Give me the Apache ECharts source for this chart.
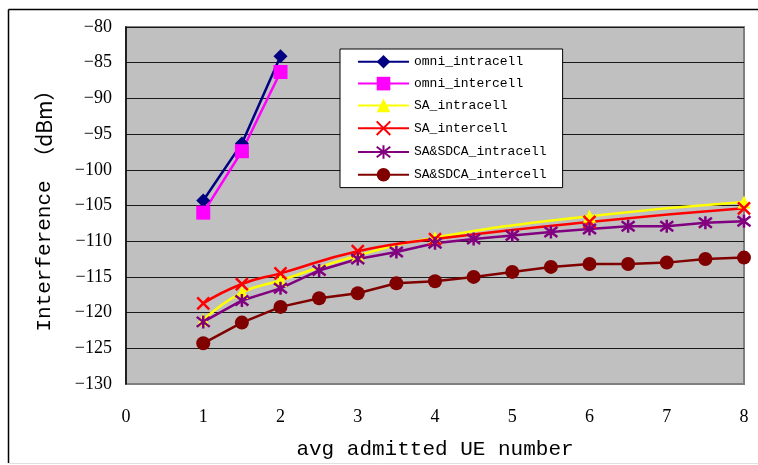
<!DOCTYPE html>
<html>
<head>
<meta charset="utf-8">
<script src="https://cdn.jsdelivr.net/npm/echarts@6/dist/echarts.min.js"></script>
<style>
html,body{margin:0;padding:0;background:#fff;}
#c{width:758px;height:465px;}
</style>
</head>
<body>
<div id="c"></div>
<script>
// ---- data ----
const xOmni = [1, 1.5, 2];
const omniIntracell = [-104.3, -96.3, -84.1];
const omniIntercell = [-106.0, -97.4, -86.3];

const xSA = [1, 1.5, 2, 3, 4, 6, 8];
const saIntracell = [-121.0, -117.2, -115.5, -112.0, -109.5, -106.5, -104.5];
const saIntercell = [-118.7, -116.0, -114.5, -111.4, -109.7, -107.3, -105.4];

const xSDCA = [1, 1.5, 2, 2.5, 3, 3.5, 4, 4.5, 5, 5.5, 6, 6.5, 7, 7.5, 8];
const sdcaIntracell = [-121.3, -118.3, -116.6, -114.1, -112.5, -111.5, -110.3, -109.7, -109.2, -108.7, -108.3, -107.9, -107.9, -107.4, -107.2];
const sdcaIntercell = [-124.3, -121.4, -119.2, -118.0, -117.3, -115.9, -115.6, -115.0, -114.3, -113.6, -113.2, -113.2, -113.0, -112.5, -112.3];

const seriesNames = ['omni_intracell', 'omni_intercell', 'SA_intracell', 'SA_intercell', 'SA&SDCA_intracell', 'SA&SDCA_intercell'];
const xTicks = {min: 0, max: 8, interval: 1};
const yTicks = {min: -130, max: -80, interval: 5};
const xName = 'avg admitted UE number';
const yNameMain = 'Interference';
const yNameUnit = '（dBm）';

function pairs(xs, ys) { return xs.map((x, i) => [x, ys[i]]); }

const X_PATH = 'path://M0,0L10,10M10,0L0,10';
const STAR_PATH = 'path://M0,0L10,10M10,0L0,10M5,-1.5L5,11.5';

const chart = echarts.init(document.getElementById('c'), null, {renderer: 'canvas'});
const monoFont = '"Liberation Mono", "Noto Sans CJK SC", monospace';
const serifFont = '"Liberation Serif", serif';

function mk(name, data, color, symbol, size, smooth, extra) {
  return Object.assign({
    name: name,
    type: 'line',
    data: data,
    smooth: smooth,
    symbol: symbol,
    symbolSize: size,
    showAllSymbol: true,
    animation: false,
    lineStyle: {color: color, width: 2.5},
    itemStyle: {color: color, borderWidth: 0}
  }, extra || {});
}

chart.setOption({
  animation: false,
  backgroundColor: '#fff',
  graphic: [
    {type: 'line', shape: {x1: 8.5, y1: 9.5, x2: 758, y2: 9.5}, style: {stroke: '#000', lineWidth: 1.5}},
    {type: 'line', shape: {x1: 8.5, y1: 9.5, x2: 8.5, y2: 463}, style: {stroke: '#000', lineWidth: 1.5}},
    {type: 'line', shape: {x1: 8.5, y1: 463.5, x2: 758, y2: 463.5}, style: {stroke: '#e0e0e0', lineWidth: 1}}
  ],
  grid: {
    left: 126, top: 27, right: 14, bottom: 71,
    show: true,
    backgroundColor: '#C0C0C0',
    borderColor: '#808080',
    borderWidth: 2
  },
  legend: {
    orient: 'vertical',
    left: 340, top: 49,
    padding: [6, 16, 6, 17],
    backgroundColor: '#fff',
    borderColor: '#000',
    borderWidth: 1,
    borderRadius: 0,
    itemWidth: 51,
    itemHeight: 17,
    itemGap: 8.2,
    textStyle: {fontFamily: monoFont, fontSize: 13, color: '#000', padding: [0, 0, 0, 0]},
    data: seriesNames
  },
  xAxis: {
    type: 'value',
    min: xTicks.min, max: xTicks.max, interval: xTicks.interval,
    name: xName,
    nameLocation: 'middle',
    nameGap: 55,
    nameTextStyle: {fontFamily: monoFont, fontSize: 21, color: '#000'},
    axisLine: {show: false},
    axisTick: {show: false},
    splitLine: {show: false},
    axisLabel: {fontFamily: serifFont, fontSize: 18, color: '#000', margin: 24}
  },
  yAxis: {
    type: 'value',
    min: yTicks.min, max: yTicks.max, interval: yTicks.interval,
    name: yNameMain + ' {u|' + yNameUnit + '}',
    nameLocation: 'middle',
    nameGap: 71,
    nameTextStyle: {
      fontFamily: monoFont, fontSize: 21, color: '#000',
      rich: {u: {fontFamily: '"Noto Sans CJK SC"', fontSize: 21, color: '#000'}}
    },
    axisLine: {show: true, lineStyle: {color: '#000', width: 1.5}},
    axisTick: {show: false},
    splitLine: {show: true, showMinLine: false, lineStyle: {color: '#1a1a1a', width: 1}},
    axisLabel: {
      fontFamily: serifFont, fontSize: 18, color: '#000', margin: 14,
      formatter: v => String(v).replace('-', '\u2212')
    }
  },
  series: [
    mk(seriesNames[0], pairs(xOmni, omniIntracell), '#000080', 'diamond', 14, false),
    mk(seriesNames[1], pairs(xOmni, omniIntercell), '#FF00FF', 'rect', 14, false),
    mk(seriesNames[2], pairs(xSA, saIntracell), '#FFFF00', 'triangle', 13, true),
    mk(seriesNames[3], pairs(xSA, saIntercell), '#FF0000', X_PATH, 12, true,
       {itemStyle: {color: '#FF0000', borderColor: '#FF0000', borderWidth: 2.5}}),
    mk(seriesNames[4], pairs(xSDCA, sdcaIntracell), '#800080', STAR_PATH, 13, false,
       {itemStyle: {color: '#800080', borderColor: '#800080', borderWidth: 2.5}}),
    mk(seriesNames[5], pairs(xSDCA, sdcaIntercell), '#800000', 'circle', 14, false)
  ]
});
</script>
</body>
</html>
